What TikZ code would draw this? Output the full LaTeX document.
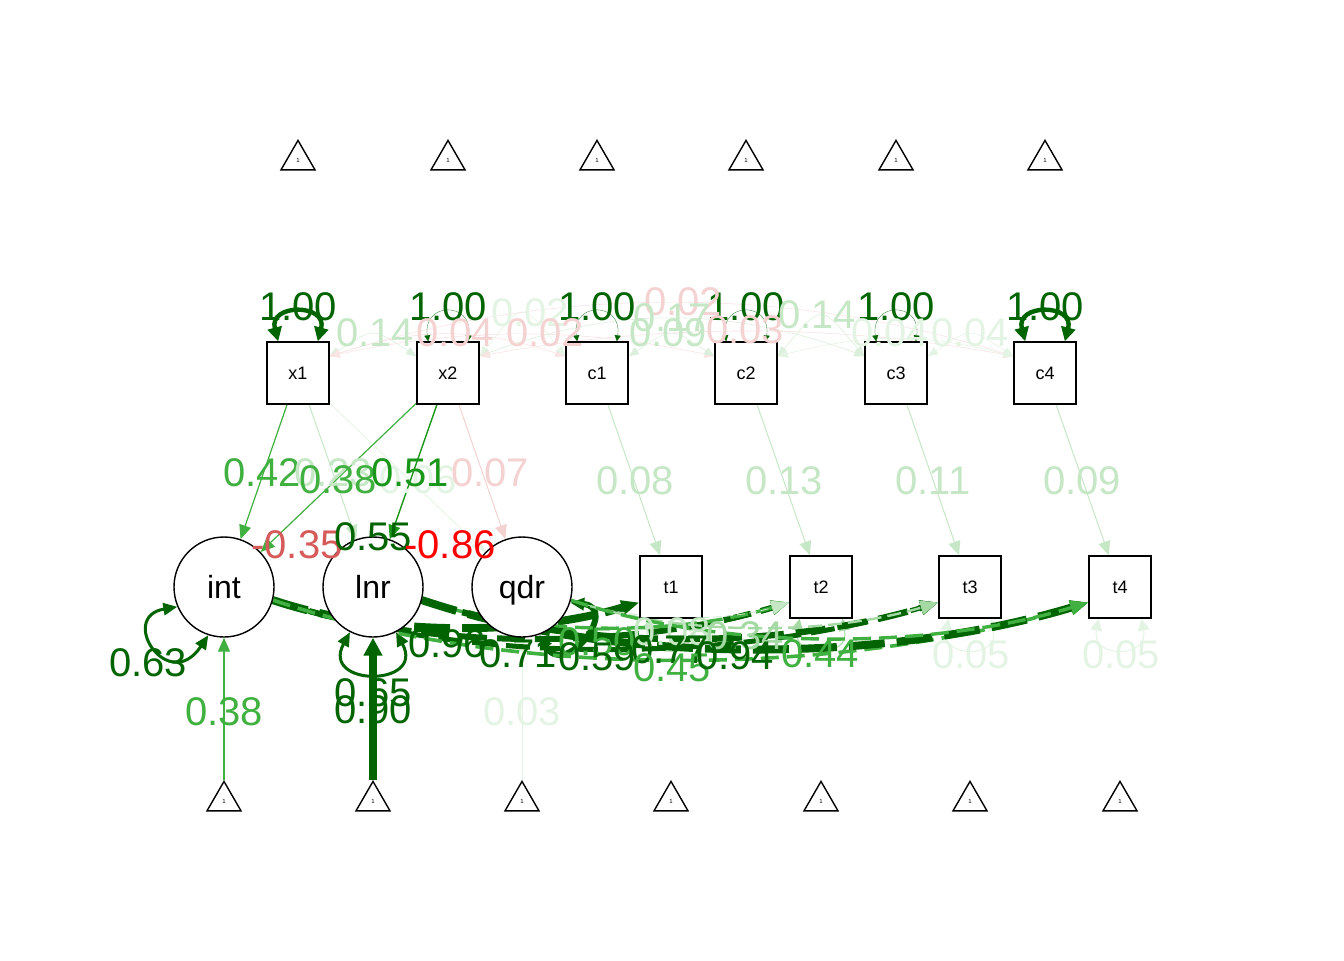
\documentclass[tikz,border=0pt]{standalone}
\usepackage{fontspec}
\setmainfont{Liberation Sans}
\usetikzlibrary{arrows.meta,shapes.geometric,calc}
\pgfdeclarelayer{bg}
\pgfsetlayers{bg,main}
\definecolor{gA}{HTML}{006400}
\definecolor{gB}{HTML}{1A961A}
\definecolor{gC}{HTML}{40B040}
\definecolor{gD}{HTML}{A4D9A4}
\definecolor{gE}{HTML}{C6E7C6}
\definecolor{gF}{HTML}{E4F4E4}
\definecolor{rA}{HTML}{FF0000}
\definecolor{rB}{HTML}{D65A5A}
\definecolor{rC}{HTML}{F4D2D2}
\definecolor{rD}{HTML}{F9E4E4}
\definecolor{gG}{HTML}{DCEFDC}
\begin{document}
\begin{tikzpicture}[x=0.5pt,y=-0.5pt,
  manif/.style={draw=black,line width=0.7pt,fill=white,minimum size=31pt,inner sep=0pt,text depth=0pt,font=\fontsize{9}{9}\selectfont},
  lat/.style={circle,draw=black,line width=0.7pt,fill=white,minimum size=50pt,inner sep=0pt,text depth=0pt,font=\fontsize{16}{16}\selectfont},
  tri/.style={regular polygon,regular polygon sides=3,draw=black,line width=0.7pt,minimum size=19.6pt,inner sep=0pt,font=\fontsize{3}{3}\selectfont},
  lab/.style={font=\fontsize{20}{20}\selectfont,inner sep=0pt},
  reg/.style={-{Triangle[length=7pt,width=6pt]}},
  cov/.style={{Triangle[length=5pt,width=4pt]}-{Triangle[length=5pt,width=4pt]},line width=0.3pt},
  thinloop/.style={draw=gA,line width=0.12pt,{Triangle[length=3pt,width=3pt]}-{Triangle[length=3pt,width=3pt]}},
  thickloop/.style={draw=gA,line width=2.2pt,{Triangle[length=7pt,width=7pt]}-{Triangle[length=7pt,width=7pt]}},
  latloop/.style={line width=1.5pt,{Triangle[length=7pt,width=6pt]}-{Triangle[length=7pt,width=6pt]}},
  resloop/.style={line width=0.5pt,{Triangle[length=6pt,width=6pt]}-{Triangle[length=6pt,width=6pt]}},
  ldash/.style={-{Triangle[length=9pt,width=7pt]}}
]
\path[use as bounding box] (0,0) rectangle (1344,960);

% top triangles
\foreach \i/\xx in {1/298,2/448,3/597,4/746,5/896,6/1045}
  \node[tri] (ta\i) at (\xx,160) {1};
% bottom triangles
\foreach \i/\xx in {1/224,2/373,3/522,4/671,5/821,6/970,7/1120}
  \node[tri] (tb\i) at (\xx,801) {1};

% manifest nodes
\node[manif] (x1) at (298,373) {x1};
\node[manif] (x2) at (448,373) {x2};
\node[manif] (c1) at (597,373) {c1};
\node[manif] (c2) at (746,373) {c2};
\node[manif] (c3) at (896,373) {c3};
\node[manif] (c4) at (1045,373) {c4};
\node[manif] (t1) at (671,587) {t1};
\node[manif] (t2) at (821,587) {t2};
\node[manif] (t3) at (970,587) {t3};
\node[manif] (t4) at (1120,587) {t4};
% latent nodes
\node[lat] (int) at (224,587) {int};
\node[lat] (lnr) at (373,587) {lnr};
\node[lat] (qdr) at (522,587) {qdr};

\begin{pgfonlayer}{bg}
% covariances among top manifests
\draw[cov,draw=gG] (x1.28) .. controls +(45,-29) and +(-45,-29) .. (x2.152);
\draw[cov,draw=rD] (x1.28) .. controls +(90,-29) and +(-90,-29) .. (c1.152);
\draw[cov,draw=gF] (x2.28) .. controls +(45,-56) and +(-45,-56) .. (c1.152);
\draw[cov,draw=rD] (x1.28) .. controls +(135,-29) and +(-135,-29) .. (c2.152);
\draw[cov,draw=gG] (c1.28) .. controls +(45,-29) and +(-45,-29) .. (c2.152);
\draw[cov,draw=gG] (x2.28) .. controls +(135,-50) and +(-135,-50) .. (c3.152);
\draw[cov,draw=rD] (x1.28) .. controls +(225,-71) and +(-225,-71) .. (c4.152);
\draw[cov,draw=rD] (x2.28) .. controls +(180,-33) and +(-180,-33) .. (c4.152);
\draw[cov,draw=gG] (c2.28) .. controls +(45,-53) and +(-45,-53) .. (c3.152);
\draw[cov,draw=gF] (c2.28) .. controls +(90,-23) and +(-90,-23) .. (c4.152);
\draw[cov,draw=gF] (c3.28) .. controls +(45,-29) and +(-45,-29) .. (c4.152);

% variance loops of top manifests
\draw[thickloop] (x1.122) .. controls +(-10,-38) and +(10,-38) .. (x1.58);
\draw[thinloop] (x2.122) .. controls +(-6,-40) and +(6,-40) .. (x2.58);
\draw[thinloop] (c1.122) .. controls +(-6,-40) and +(6,-40) .. (c1.58);
\draw[thinloop] (c2.122) .. controls +(-6,-40) and +(6,-40) .. (c2.58);
\draw[thinloop] (c3.122) .. controls +(-6,-40) and +(6,-40) .. (c3.58);
\draw[thickloop] (c4.122) .. controls +(-10,-38) and +(10,-38) .. (c4.58);

% regressions on latent factors
\draw[reg,draw=gC,line width=0.6pt] (x1) -- (int);
\draw[reg,draw=gE,line width=0.5pt] (x1) -- (lnr);
\draw[reg,draw=gF,line width=0.4pt] (x1) -- (qdr);
\draw[reg,draw=gC,line width=0.6pt] (x2) -- (int);
\draw[reg,draw=gB,line width=0.7pt] (x2) -- (lnr);
\draw[reg,draw=rC,line width=0.5pt] (x2) -- (qdr);

% covariates to outcomes
\draw[reg,draw=gE,line width=0.5pt] (c1) -- (t1);
\draw[reg,draw=gE,line width=0.5pt] (c2) -- (t2);
\draw[reg,draw=gE,line width=0.5pt] (c3) -- (t3);
\draw[reg,draw=gE,line width=0.5pt] (c4) -- (t4);

% intercepts of latent factors
\draw[reg,draw=gC,line width=0.7pt] (tb1) -- (int);
\draw[-{Triangle[length=9pt,width=9pt]},draw=gA,line width=4pt] (tb2) -- (lnr);
\draw[reg,draw=gF,line width=0.4pt] (tb3) -- (qdr);

% latent variances
\draw[latloop,draw=gA] (int.203) .. controls +(-60,10) and +(-40,60) .. (int.252);
\draw[latloop,draw=gA] (lnr.243) .. controls +(-30,55) and +(30,55) .. (lnr.297);
\draw[latloop,draw=gA,line width=3pt] (qdr.-18) .. controls +(50,5) and +(25,45) .. (qdr.-70);

% residual variances of outcomes
\draw[resloop,draw=gE] (t1.236) .. controls +(-8,40) and +(8,40) .. (t1.304);
\draw[resloop,draw=gD] (t2.236) .. controls +(-8,40) and +(8,40) .. (t2.304);
\draw[resloop,draw=gF] (t3.236) .. controls +(-8,40) and +(8,40) .. (t3.304);
\draw[resloop,draw=gF] (t4.236) .. controls +(-8,40) and +(8,40) .. (t4.304);

% growth factor loadings (fixed, dashed)
\draw[ldash,draw=gA,line width=4pt,dash pattern=on 18pt off 6pt] (int.-15) .. controls +(110,37) and +(-110,33) .. (t1.206);
\draw[ldash,draw=gA,line width=3pt,dash pattern=on 14pt off 5pt] (int.-15) .. controls +(155,52) and +(-155,47) .. (t2.206);
\draw[ldash,draw=gA,line width=2.5pt,dash pattern=on 12pt off 5pt] (int.-15) .. controls +(200,67) and +(-200,60) .. (t3.206);
\draw[ldash,draw=gC,line width=1.8pt,dash pattern=on 9pt off 4pt] (int.-15) .. controls +(245,82) and +(-245,74) .. (t4.206);
\draw[ldash,draw=gC,line width=1.7pt,dash pattern=on 9pt off 4pt] (lnr.-15) .. controls +(110,37) and +(-110,33) .. (t2.206);
\draw[ldash,draw=gA,line width=3.2pt,dash pattern=on 15pt off 6pt] (lnr.-15) .. controls +(155,52) and +(-155,47) .. (t3.206);
\draw[ldash,draw=gA,line width=4pt,dash pattern=on 18pt off 6pt] (lnr.-15) .. controls +(200,67) and +(-200,60) .. (t4.206);
\draw[ldash,draw=gE,line width=0.4pt,dash pattern=on 4pt off 2pt] (qdr.-15) .. controls +(66,22) and +(-66,20) .. (t2.206);
\draw[ldash,draw=gD,line width=1.2pt,dash pattern=on 7pt off 3pt] (qdr.-15) .. controls +(110,37) and +(-110,33) .. (t3.206);
\draw[ldash,draw=gC,line width=1.7pt,dash pattern=on 9pt off 4pt] (qdr.-15) .. controls +(155,52) and +(-155,47) .. (t4.206);
\end{pgfonlayer}

% labels: top variances
\foreach \i/\xx in {1/298,2/448,3/597,4/746,5/896,6/1045}
  \node[lab,text=gA] (lv\i) at (\xx,307) {1.00};
% labels: top covariances
\node[lab,text=gE] (lc1) at (375,333) {0.14};
\node[lab,text=rC] (lc2) at (455,333) {0.04};
\node[lab,text=gF] (lc3) at (530,313) {0.02};
\node[lab,text=rC] (lc4) at (545,333) {0.02};
\node[lab,text=rC] (lc5) at (683,302) {0.02};
\node[lab,text=gE] (lc6) at (672,318) {0.17};
\node[lab,text=gE] (lc7) at (668,333) {0.09};
\node[lab,text=rC] (lc8) at (745,330) {0.03};
\node[lab,text=gE] (lc9) at (817,315) {0.14};
\node[lab,text=gF] (lc10) at (890,333) {0.04};
\node[lab,text=gF] (lc11) at (970,333) {0.04};
% labels: regressions
\node[lab,text=gC] (lr1) at (262,473) {0.42};
\node[lab,text=gE] (lr2) at (333,473) {0.23};
\node[lab,text=gC] (lr3) at (338,480) {0.38};
\node[lab,text=gF] (lr4) at (418,480) {0.06};
\node[lab,text=gB] (lr5) at (410,473) {0.51};
\node[lab,text=rC] (lr6) at (490,473) {0.07};
% labels: latent covariances
\node[lab,text=rB] (lk1) at (297,545) {-0.35};
\node[lab,text=gA] (lk2) at (373,537) {0.55};
\node[lab,text=rA] (lk3) at (450,545) {-0.86};
% labels: covariate effects
\node[lab,text=gE] (lt1) at (635,481) {0.08};
\node[lab,text=gE] (lt2) at (784,481) {0.13};
\node[lab,text=gE] (lt3) at (933,481) {0.11};
\node[lab,text=gE] (lt4) at (1082,481) {0.09};
% labels: latent variances and intercepts
\node[lab,text=gA] (lv7) at (148,663) {0.63};
\node[lab,text=gA] (lv8) at (373,693) {0.65};
\node[lab,text=gC] (li1) at (224,712) {0.38};
\node[lab,text=gA] (li2) at (373,710) {0.90};
\node[lab,text=gF] (li3) at (522,712) {0.03};
% labels: loadings and residuals
\node[lab,text=gA] (ll1) at (447,644) {0.96};
\node[lab,text=gA] (ll2) at (518,654) {0.71};
\node[lab,text=gC] (ll3) at (597,642) {0.50};
\node[lab,text=gA] (ll4) at (597,657) {0.59};
\node[lab,text=gE] (ll5) at (672,632) {0.08};
\node[lab,text=gA] (ll6) at (670,650) {0.77};
\node[lab,text=gC] (ll7) at (672,668) {0.45};
\node[lab,text=gD] (ll8) at (745,636) {0.34};
\node[lab,text=gA] (ll9) at (735,656) {0.94};
\node[lab,text=gC] (ll10) at (820,654) {0.44};
\node[lab,text=gF] (lres3) at (971,655) {0.05};
\node[lab,text=gF] (lres4) at (1121,655) {0.05};
\end{tikzpicture}
\end{document}
